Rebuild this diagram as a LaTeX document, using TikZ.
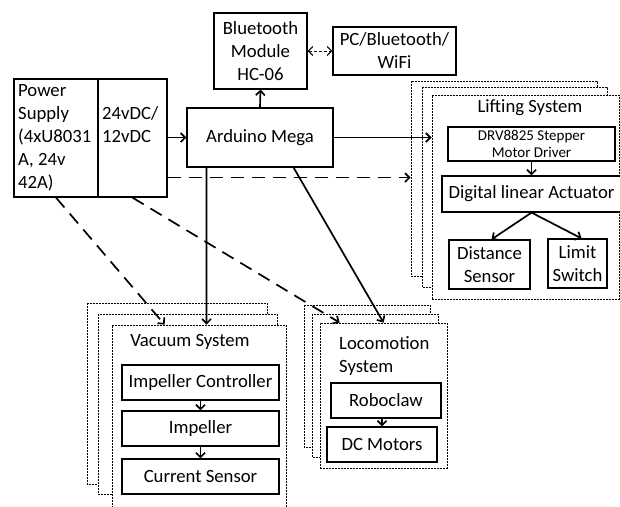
\documentclass[tikz,border=0pt]{standalone}
\usepackage{fontspec}
\setmainfont{Carlito}
\usepackage{tikz}
\usetikzlibrary{
  positioning,
  shapes,
  arrows.meta,
  calc
}
\frenchspacing

\begin{document}
\begin{tikzpicture}[x=1pt,y=-1pt,>={Straight Barb[length=4.5pt,width=9pt]},
    box/.style={draw,line width=1.2pt,fill=white,inner sep=2pt,align=center,font=\fontsize{18.7}{23}\selectfont},
    stack/.style={draw,line width=0.8pt,dash pattern=on 2pt off 1pt,fill=white},
    txt/.style={inner sep=0pt,font=\fontsize{18.7}{23}\selectfont},
    arr/.style={->,line width=1.7pt},
    dsh/.style={->,line width=1.7pt,dash pattern=on 13pt off 8pt}]
    \useasboundingbox (0,0) rectangle (620,506);
    \node[box,minimum width=93,minimum height=76] (bt) at (260.5,51){Bluetooth\\Module\\HC-06};
    \node[box,minimum width=123,minimum height=48] (pc) at (394.5,51){PC/Bluetooth/\\WiFi};
    \node[box,minimum width=84,minimum height=118] (psuL) at (56,138){};
    \node[txt,align=left,anchor=west] (psuLt) at (18,138){Power\\Supply\\(4xU8031\\A, 24v\\42A)};
    \node[box,minimum width=69,minimum height=118] (psuR) at (132.5,138){};
    \node[txt,align=left,anchor=west] (psuRt) at (102,125){24vDC/\\12vDC};
    \node[box,minimum width=146,minimum height=59] (ard) at (260,137.5){Arduino Mega};

    % lifting
    \node[stack,minimum width=186,minimum height=195] (lifB) at (504,178.5){};
    \draw[stack] (422,87) rectangle (607,287);
    \node[stack,minimum width=187,minimum height=204] (lif) at (525.5,197){};
    \node[txt] (liftxt) at (530,108){Lifting System};
    \node[box,minimum width=167,minimum height=34,font=\fontsize{15}{17}\selectfont] (drv) at (531.5,144){DRV8825 Stepper\\Motor Driver};
    \node[box,minimum width=179,minimum height=36] (dla) at (531.5,194){Digital linear Actuator};
    \node[box,minimum width=81,minimum height=49] (dist) at (489.5,264.5){Distance\\Sensor};
    \node[box,minimum width=59,minimum height=49] (lim) at (577.5,263.5){Limit\\Switch};
    \draw[arr] (dla.north |- drv.south) -- (dla.north);
    \draw[arr] (dla.south) -- ($(dist.north)+(2,0)$);
    \draw[arr] (dla.south) -- ($(lim.north)+(4,0)$);

    % vacuum
    \draw[stack] (87,303) rectangle (267,484);
    \draw[stack] (98,314) rectangle (277,494);
    \node[stack,minimum width=174,minimum height=200] (vac) at (199,425){};
    \node[txt] (vactxt) at (190,342){Vacuum System};
    \node[box,minimum width=157,minimum height=35] (ic) at (200.5,382.5){Impeller Controller};
    \node[box,minimum width=157,minimum height=35] (imp) at (200.5,428.5){Impeller};
    \node[box,minimum width=157,minimum height=35] (cs) at (200.5,476.5){Current Sensor};
    \draw[arr] (ic) -- (imp);
    \draw[arr] (imp) -- (cs);

    % locomotion
    \draw[stack] (304,305) rectangle (430,447);
    \draw[stack] (312,314) rectangle (438,457);
    \node[stack,minimum width=127,minimum height=145] (loc) at (383.5,395.5){};
    \node[txt,align=left,anchor=west] (loctxt) at (339,356){Locomotion\\System};
    \node[box,minimum width=110,minimum height=35] (rc) at (386,400.5){Roboclaw};
    \node[box,minimum width=110,minimum height=35] (dcm) at (382,444.5){DC Motors};
    \draw[arr] (dcm.north |- rc.south) -- (dcm.north);

    % connections
    \coordinate (psuout) at ($(psuR.south east)+(0,-20)$);
    \draw[arr] (psuR.east |- ard.west) -- (ard.west);
    \draw[arr] (ard.north) -- (bt.south);
    \draw[<->,line width=1pt,dash pattern=on 3pt off 2pt] (bt.east) -- (pc.west);
    \draw[arr] (ard.east) -- (lif.west |- ard.east);
    \draw[dsh] (psuout) -- (lifB.west |- psuout);
    \draw[dsh] (psuL.south) -- ($(vac.north west)+(53,0)$);
    \draw[dsh] (psuR.south) -- ($(loc.north west)+(20,0)$);
    \draw[arr] ($(ard.south west)+(20,0)$) -- ($(vac.north west)+(95,0)$);
    \draw[arr] ($(ard.south east)+(-40,0)$) -- (loc.north);
  \end{tikzpicture}
\end{document}
